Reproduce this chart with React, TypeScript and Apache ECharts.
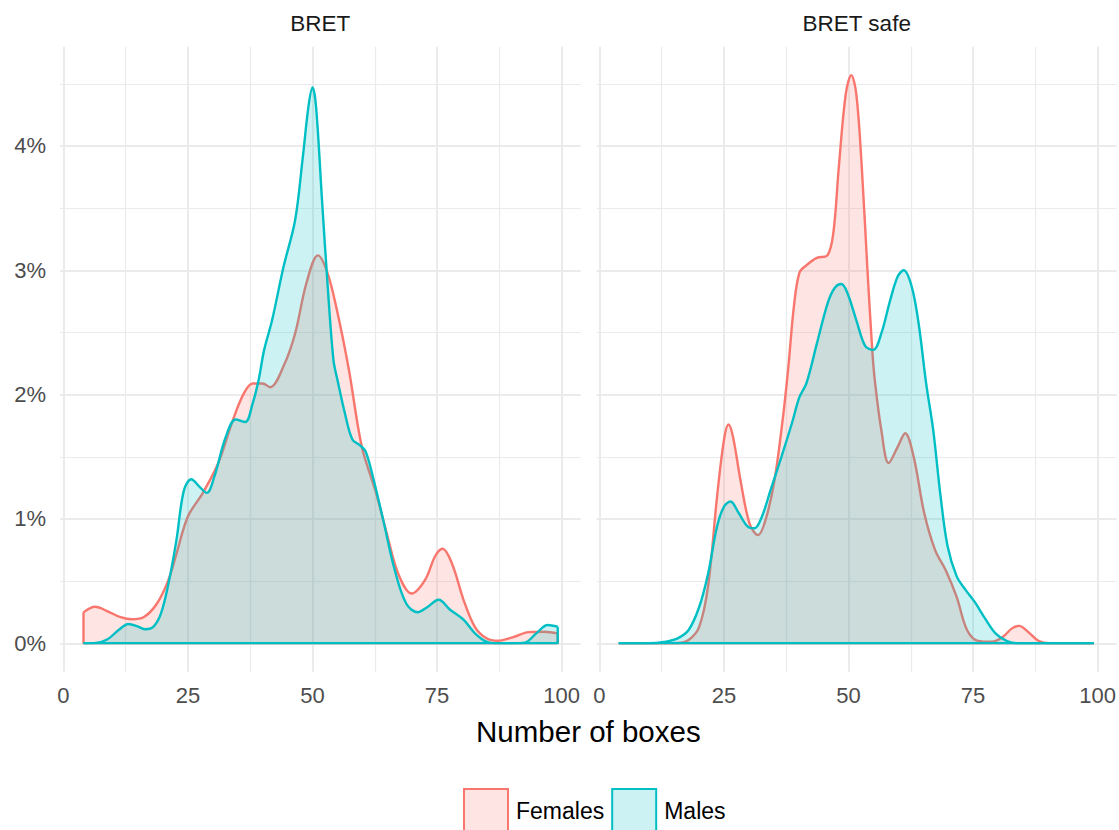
import React, { useEffect, useRef } from 'react';
import * as echarts from 'echarts';

// ---------- data ----------
const panelTitles = ['BRET', 'BRET safe'];
const groupNames = ['Females', 'Males'];
const groupColors = ['#F8766D', '#00BFC4'];
const groupFills = ['rgba(248,118,109,0.2)', 'rgba(0,191,196,0.2)'];
const axisTitle = 'Number of boxes';

// BRET panel, Females (density in %)
const bretFemalesX = [4.05, 6.4, 9, 11.5, 13.8, 16.1, 18.8, 21.1, 22.7, 25, 28, 31.1, 33.8, 36.1, 38, 40, 41.5, 44.2, 46.5, 48.8, 51.1, 53, 54.9, 57.3, 59.9, 62.6, 64.9, 67.2, 69.9, 72.6, 74.6, 76.1, 78, 80.3, 82.6, 84.9, 87.2, 90.3, 93.4, 96.5, 99.2];
const bretFemalesY = [0.249, 0.294, 0.255, 0.21, 0.193, 0.209, 0.32, 0.51, 0.72, 1.02, 1.21, 1.45, 1.77, 2.0, 2.09, 2.09, 2.06, 2.23, 2.49, 2.9, 3.12, 2.98, 2.68, 2.2, 1.58, 1.23, 0.885, 0.56, 0.4, 0.51, 0.7, 0.76, 0.64, 0.35, 0.13, 0.04, 0.02, 0.05, 0.09, 0.093, 0.08];

// BRET panel, Males
const bretMalesX = [4.05, 6.5, 8.8, 11.1, 13.1, 15, 16.5, 18.1, 19.6, 21.1, 22.7, 24.2, 25.7, 27.3, 28.8, 30.3, 32.6, 34.6, 36.5, 38, 39.2, 40.3, 41.9, 44.2, 46.5, 48, 49.2, 50, 50.7, 51.9, 53, 54.2, 55, 56.5, 58, 59.6, 60.7, 62.3, 64.2, 66.5, 68.8, 71.1, 73, 75.3, 77.6, 80.3, 82.6, 84.9, 87.2, 90, 92.6, 94.9, 97.2, 99.2];
const bretMalesY = [0, 0.003, 0.03, 0.107, 0.155, 0.134, 0.113, 0.134, 0.24, 0.48, 0.83, 1.23, 1.32, 1.26, 1.21, 1.34, 1.66, 1.8, 1.78, 1.93, 2.12, 2.36, 2.6, 3.03, 3.4, 3.89, 4.32, 4.47, 4.32, 3.57, 2.9, 2.28, 2.12, 1.85, 1.64, 1.59, 1.54, 1.31, 0.99, 0.59, 0.32, 0.25, 0.29, 0.35, 0.27, 0.19, 0.08, 0.013, 0, 0, 0.005, 0.08, 0.147, 0.134];

// BRET safe panel, Females
const safeFemalesX = [3.9, 10, 15.7, 17.9, 20, 21.8, 23.6, 25, 25.9, 26.8, 28.3, 30.1, 31.8, 33.3, 35.1, 36.9, 37.9, 39, 40.1, 41.5, 43.6, 45.7, 46.9, 48, 49.4, 50.5, 51.5, 52.6, 53.7, 54.7, 55.2, 56.5, 58, 59.8, 61.3, 63, 65.1, 67.3, 69.4, 71.6, 73.7, 75.9, 78.7, 80.9, 82.7, 84.1, 85.9, 88, 90.2, 95, 99.1];
const safeFemalesY = [0, 0, 0.003, 0.027, 0.13, 0.46, 1.18, 1.64, 1.76, 1.66, 1.31, 0.965, 0.87, 0.99, 1.31, 1.85, 2.23, 2.71, 2.98, 3.04, 3.1, 3.12, 3.3, 3.83, 4.42, 4.57, 4.42, 3.83, 3.03, 2.36, 2.12, 1.72, 1.45, 1.58, 1.69, 1.5, 1.05, 0.75, 0.59, 0.375, 0.107, 0.02, 0.013, 0.053, 0.12, 0.14, 0.093, 0.02, 0, 0, 0];

// BRET safe panel, Males
const safeMalesX = [3.9, 10, 12.9, 15.7, 17.9, 20, 21.8, 23.6, 25, 26.3, 27.9, 29.7, 31.1, 32.6, 34.3, 36.5, 38.6, 40.1, 41.5, 43.6, 45.8, 47.2, 48.5, 49.7, 51.5, 53.3, 54.9, 56.5, 58.3, 59.8, 61, 62.6, 64, 65.5, 66.9, 68.4, 69.8, 71.6, 73.4, 75.2, 77.3, 79.4, 81.6, 83.7, 90, 99.1];
const safeMalesY = [0, 0, 0.01, 0.04, 0.107, 0.29, 0.56, 0.94, 1.1, 1.14, 1.05, 0.94, 0.925, 1.02, 1.23, 1.5, 1.77, 1.98, 2.09, 2.41, 2.74, 2.86, 2.89, 2.82, 2.6, 2.39, 2.36, 2.49, 2.76, 2.95, 3.0, 2.87, 2.57, 2.09, 1.72, 1.18, 0.78, 0.54, 0.43, 0.335, 0.2, 0.08, 0.02, 0, 0, 0];

const panelData = [
  [[bretFemalesX, bretFemalesY], [bretMalesX, bretMalesY]],
  [[safeFemalesX, safeFemalesY], [safeMalesX, safeMalesY]],
];

// ---------- layout ----------
const FONT = '"Liberation Sans", Arial, Helvetica, sans-serif';
const GRID_COLOR = '#EBEBEB';
const PANELS = [
  { left: 60, right: 580.7, x0: 63.3, x100: 561.7 },
  { left: 596.7, right: 1116.7, x0: 599.3, x100: 1098.3 },
];
const PANEL_TOP = 46.7;
const PANEL_BOTTOM = 671.7;
const Y0 = 643.3;
const PX_PER_PCT = 124.33;
const Y5 = Y0 - 5 * PX_PER_PCT;

function curve(xs: number[], ys: number[]) {
  return xs.map((x, i) => [x, ys[i]]);
}
function outline(xs: number[], ys: number[]) {
  const n = xs.length - 1;
  return [[xs[n], ys[n]], [xs[n], 0], [xs[0], 0], [xs[0], ys[0]]];
}

function buildOption() {
  const grid: any[] = [];
  const xAxis: any[] = [];
  const yAxis: any[] = [];
  const series: any[] = [];
  const graphic: any[] = [];

  PANELS.forEach((p, pi) => {
    const base = pi * 3;
    grid.push({ left: p.x0, width: p.x100 - p.x0, top: PANEL_TOP, height: PANEL_BOTTOM - PANEL_TOP });
    grid.push({ left: p.left, width: p.right - p.left, top: Y5, height: Y0 - Y5 });
    grid.push({ left: p.x0, width: p.x100 - p.x0, top: Y5, height: Y0 - Y5 });

    xAxis.push({
      gridIndex: base, type: 'value', min: 0, max: 100, interval: 25,
      axisLine: { show: false }, axisTick: { show: false },
      axisLabel: { fontSize: 22, color: '#4D4D4D', fontFamily: FONT, margin: 13 },
      splitLine: { show: true, lineStyle: { color: GRID_COLOR, width: 2 } },
      minorTick: { show: false, splitNumber: 2 },
      minorSplitLine: { show: true, lineStyle: { color: GRID_COLOR, width: 1.2 } },
    });
    yAxis.push({ gridIndex: base, type: 'value', min: 0, max: 1, show: false });

    xAxis.push({ gridIndex: base + 1, type: 'value', min: 0, max: 1, show: false });
    yAxis.push({
      gridIndex: base + 1, type: 'value', min: 0, max: 5, interval: 1,
      axisLine: { show: false }, axisTick: { show: false },
      axisLabel: {
        show: pi === 0, fontSize: 22, color: '#4D4D4D', fontFamily: FONT, margin: 14,
        formatter: (v: number) => (v >= 5 ? '' : v + '%'),
      },
      splitLine: { show: true, showMaxLine: false, lineStyle: { color: GRID_COLOR, width: 2 } },
      minorTick: { show: false, splitNumber: 2 },
      minorSplitLine: { show: true, lineStyle: { color: GRID_COLOR, width: 1.2 } },
    });

    xAxis.push({ gridIndex: base + 2, type: 'value', min: 0, max: 100, show: false });
    yAxis.push({ gridIndex: base + 2, type: 'value', min: 0, max: 5, show: false });

    panelData[pi].forEach(([xs, ys], gi) => {
      series.push({
        name: groupNames[gi], type: 'line', xAxisIndex: base + 2, yAxisIndex: base + 2,
        data: curve(xs, ys), smooth: 0.35, symbol: 'none', showSymbol: false,
        lineStyle: { color: groupColors[gi], width: 2.4 },
        itemStyle: { color: groupColors[gi] },
        areaStyle: { color: groupFills[gi], opacity: 1 },
        silent: true, z: 2 + gi * 2,
      });
      series.push({
        name: groupNames[gi] + ' outline', type: 'line', xAxisIndex: base + 2, yAxisIndex: base + 2,
        data: outline(xs, ys), smooth: false, symbol: 'none', showSymbol: false,
        lineStyle: { color: groupColors[gi], width: 2.4 },
        itemStyle: { color: groupColors[gi] },
        silent: true, z: 3 + gi * 2,
      });
    });

    graphic.push({
      type: 'text', x: (p.left + p.right) / 2, y: 23,
      style: { text: panelTitles[pi], fontSize: 22.5, fill: '#1A1A1A', fontFamily: FONT, textAlign: 'center', textVerticalAlign: 'middle' },
    });
  });

  graphic.push({
    type: 'text', x: (PANELS[0].left + PANELS[1].right) / 2, y: 731,
    style: { text: axisTitle, fontSize: 29.5, fill: '#000000', fontFamily: FONT, textAlign: 'center', textVerticalAlign: 'middle' },
  });

  return {
    animation: false,
    backgroundColor: '#FFFFFF',
    grid, xAxis, yAxis, series, graphic,
    legend: {
      data: groupNames.map((n, i) => ({
        name: n,
        itemStyle: { color: groupFills[i], borderColor: groupColors[i], borderWidth: 2 },
      })),
      icon: 'rect', orient: 'horizontal', left: 463, top: 788, padding: 0,
      itemWidth: 44, itemHeight: 44, itemGap: 7, selectedMode: false,
      textStyle: { fontSize: 23, color: '#000000', fontFamily: FONT, padding: [0, 0, 0, 3] },
    },
  };
}

export default function App() {
  const ref = useRef<HTMLDivElement>(null);
  useEffect(() => {
    const chart = echarts.init(ref.current as HTMLDivElement, null, { renderer: 'svg' });
    chart.setOption(buildOption() as any);
    return () => chart.dispose();
  }, []);
  return <div ref={ref} style={{ position: 'absolute', left: 0, top: 0, width: 1119, height: 830 }} />;
}
